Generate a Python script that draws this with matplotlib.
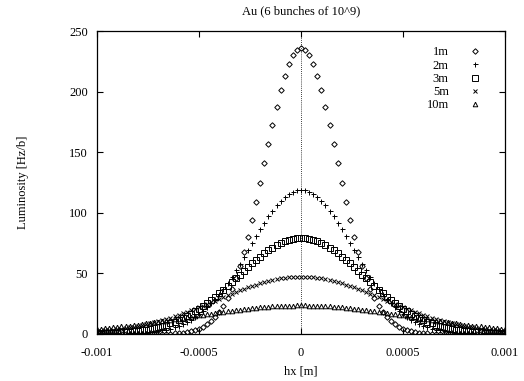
import numpy as np
import matplotlib
matplotlib.use("Agg")
import matplotlib.pyplot as plt
import matplotlib.transforms as mtransforms

plt.rcParams['font.family'] = ['Liberation Serif', 'DejaVu Serif']

# hx positions in mm (converted to m below)
hx_mm = [-1.00, -0.98, -0.96, -0.94, -0.92, -0.90, -0.88, -0.86, -0.84, -0.82,
         -0.80, -0.78, -0.76, -0.74, -0.72, -0.70, -0.68, -0.66, -0.64, -0.62,
         -0.60, -0.58, -0.56, -0.54, -0.52, -0.50, -0.48, -0.46, -0.44, -0.42,
         -0.40, -0.38, -0.36, -0.34, -0.32, -0.30, -0.28, -0.26, -0.24, -0.22,
         -0.20, -0.18, -0.16, -0.14, -0.12, -0.10, -0.08, -0.06, -0.04, -0.02,
         0.00,
         0.02, 0.04, 0.06, 0.08, 0.10, 0.12, 0.14, 0.16, 0.18, 0.20,
         0.22, 0.24, 0.26, 0.28, 0.30, 0.32, 0.34, 0.36, 0.38, 0.40,
         0.42, 0.44, 0.46, 0.48, 0.50, 0.52, 0.54, 0.56, 0.58, 0.60,
         0.62, 0.64, 0.66, 0.68, 0.70, 0.72, 0.74, 0.76, 0.78, 0.80,
         0.82, 0.84, 0.86, 0.88, 0.90, 0.92, 0.94, 0.96, 0.98, 1.00]

lum_1m = [0, 0, 0, 0, 0, 0, 0, 0, 0, 0,
          0.01, 0.01, 0.02, 0.04, 0.06, 0.09, 0.15, 0.23, 0.34, 0.51,
          0.75, 1.10, 1.58, 2.24, 3.15, 4.36, 5.96, 8.05, 10.7, 14.1,
          18.3, 23.5, 29.8, 37.3, 46.0, 56.1, 67.5, 80.2, 94.1, 109.0,
          124.6, 140.7, 156.8, 172.6, 187.5, 201.2, 213.1, 222.8, 230.0, 234.5,
          236.0,
          234.5, 230.0, 222.8, 213.1, 201.2, 187.5, 172.6, 156.8, 140.7, 124.6,
          109.0, 94.1, 80.2, 67.5, 56.1, 46.0, 37.3, 29.8, 23.5, 18.3,
          14.1, 10.7, 8.05, 5.96, 4.36, 3.15, 2.24, 1.58, 1.10, 0.75,
          0.51, 0.34, 0.23, 0.15, 0.09, 0.06, 0.04, 0.02, 0.01, 0.01,
          0, 0, 0, 0, 0, 0, 0, 0, 0, 0]

lum_2m = [0.04, 0.05, 0.07, 0.10, 0.14, 0.18, 0.24, 0.32, 0.42, 0.55,
          0.71, 0.92, 1.17, 1.49, 1.88, 2.36, 2.95, 3.65, 4.49, 5.50,
          6.68, 8.07, 9.68, 11.5, 13.7, 16.1, 18.8, 21.9, 25.3, 29.0,
          33.1, 37.5, 42.2, 47.2, 52.5, 57.9, 63.6, 69.3, 75.1, 80.8,
          86.4, 91.8, 97.0, 101.7, 106.1, 109.9, 113.1, 115.6, 117.5, 118.6,
          119.0,
          118.6, 117.5, 115.6, 113.1, 109.9, 106.1, 101.7, 97.0, 91.8, 86.4,
          80.8, 75.1, 69.3, 63.6, 57.9, 52.5, 47.2, 42.2, 37.5, 33.1,
          29.0, 25.3, 21.9, 18.8, 16.1, 13.7, 11.5, 9.68, 8.07, 6.68,
          5.50, 4.49, 3.65, 2.95, 2.36, 1.88, 1.49, 1.17, 0.92, 0.71,
          0.55, 0.42, 0.32, 0.24, 0.18, 0.14, 0.10, 0.07, 0.05, 0.04]

lum_3m = [0.39, 0.48, 0.59, 0.72, 0.88, 1.06, 1.28, 1.55, 1.85, 2.21,
          2.62, 3.11, 3.66, 4.29, 5.01, 5.83, 6.75, 7.79, 8.94, 10.2,
          11.6, 13.2, 14.9, 16.7, 18.7, 20.9, 23.2, 25.6, 28.2, 30.9,
          33.7, 36.6, 39.7, 42.7, 45.8, 48.9, 52.1, 55.1, 58.2, 61.1,
          63.9, 66.5, 68.9, 71.2, 73.2, 74.9, 76.4, 77.5, 78.3, 78.8,
          79.0,
          78.8, 78.3, 77.5, 76.4, 74.9, 73.2, 71.2, 68.9, 66.5, 63.9,
          61.1, 58.2, 55.1, 52.1, 48.9, 45.8, 42.7, 39.7, 36.6, 33.7,
          30.9, 28.2, 25.6, 23.2, 20.9, 18.7, 16.7, 14.9, 13.2, 11.6,
          10.2, 8.94, 7.79, 6.75, 5.83, 5.01, 4.29, 3.66, 3.11, 2.62,
          2.21, 1.85, 1.55, 1.28, 1.06, 0.88, 0.72, 0.59, 0.48, 0.39]

lum_5m = [2.2, 2.5, 2.9, 3.2, 3.6, 4.0, 4.5, 5.0, 5.5, 6.1,
          6.7, 7.4, 8.1, 8.9, 9.7, 10.6, 11.5, 12.5, 13.6, 14.7,
          15.8, 17.0, 18.2, 19.4, 20.7, 22.1, 23.4, 24.8, 26.2, 27.6,
          29.0, 30.5, 31.9, 33.3, 34.6, 36.0, 37.2, 38.5, 39.7, 40.8,
          41.9, 42.9, 43.8, 44.6, 45.3, 45.9, 46.4, 46.8, 47.1, 47.2,
          47.3,
          47.2, 47.1, 46.8, 46.4, 45.9, 45.3, 44.6, 43.8, 42.9, 41.9,
          40.8, 39.7, 38.5, 37.2, 36.0, 34.6, 33.3, 31.9, 30.5, 29.0,
          27.6, 26.2, 24.8, 23.4, 22.1, 20.7, 19.4, 18.2, 17.0, 15.8,
          14.7, 13.6, 12.5, 11.5, 10.6, 9.7, 8.9, 8.1, 7.4, 6.7,
          6.1, 5.5, 5.0, 4.5, 4.0, 3.6, 3.2, 2.9, 2.5, 2.2]

lum_10m = [4.2, 4.5, 4.8, 5.1, 5.5, 5.8, 6.2, 6.6, 7.0, 7.4,
           7.8, 8.3, 8.7, 9.2, 9.7, 10.1, 10.6, 11.1, 11.6, 12.2,
           12.7, 13.2, 13.7, 14.3, 14.8, 15.3, 15.9, 16.4, 16.9, 17.4,
           17.9, 18.4, 18.9, 19.3, 19.8, 20.2, 20.6, 21.0, 21.4, 21.7,
           22.0, 22.3, 22.6, 22.8, 23.0, 23.2, 23.3, 23.5, 23.5, 23.6,
           23.6,
           23.6, 23.5, 23.5, 23.3, 23.2, 23.0, 22.8, 22.6, 22.3, 22.0,
           21.7, 21.4, 21.0, 20.6, 20.2, 19.8, 19.3, 18.9, 18.4, 17.9,
           17.4, 16.9, 16.4, 15.9, 15.3, 14.8, 14.3, 13.7, 13.2, 12.7,
           12.2, 11.6, 11.1, 10.6, 10.1, 9.7, 9.2, 8.7, 8.3, 7.8,
           7.4, 7.0, 6.6, 6.2, 5.8, 5.5, 5.1, 4.8, 4.5, 4.2]

series_labels = ['1m', '2m', '3m', '5m', '10m']
xtick_vals = [-0.001, -0.0005, 0, 0.0005, 0.001]
xtick_labels = ['-0.001', '-0.0005', '0', '0.0005', '0.001']
ytick_vals = [0, 50, 100, 150, 200, 250]

hx = np.array(hx_mm) * 1e-3

fig = plt.figure(figsize=(5.24, 3.81), dpi=100)
ax = fig.add_axes([97/524, 1 - 334/381, 408/524, 303/381])

styles = [
    dict(marker='D', ms=2.8, mfc='none', mec='black', mew=0.7),
    dict(marker='+', ms=3.6, mec='black', mew=0.7),
    dict(marker='s', ms=3.7, mfc='none', mec='black', mew=0.7),
    dict(marker='x', ms=2.9, mec='black', mew=0.7),
    dict(marker='^', ms=3.3, mfc='none', mec='black', mew=0.7),
]
data = [lum_1m, lum_2m, lum_3m, lum_5m, lum_10m]
for y, lab, st in zip(data, series_labels, styles):
    ax.plot(hx, y, ls='none', label=lab, **st)

ax.axvline(0, color='black', lw=0.6, ls=(0, (1, 1.5)))

ax.set_xlim(-0.001, 0.001)
ax.set_ylim(0, 250)
ax.set_xticks(xtick_vals)
ax.set_xticklabels(xtick_labels)
ax.set_yticks(ytick_vals)
ax.tick_params(direction='in', top=True, right=True, length=4, width=0.8,
               labelsize=9)
ax.tick_params(axis='x', pad=9)
ax.tick_params(axis='y', pad=6.5)
for sp in ax.spines.values():
    sp.set_linewidth(0.9)

ax.set_title('Au (6 bunches of 10^9)', fontsize=9, pad=12)
ax.set_xlabel('hx [m]', fontsize=9, labelpad=5)
ax.set_ylabel('Luminosity [Hz/b]', fontsize=9, labelpad=29)

leg = ax.legend(loc='upper right', bbox_to_anchor=(0.963, 0.978), frameon=False,
                markerfirst=False, fontsize=9, handlelength=1.0, handletextpad=1.6,
                labelspacing=0.1, borderpad=0.2)
fig.canvas.draw()
renderer = fig.canvas.get_renderer()
rights = [t.get_window_extent(renderer).x1 for t in leg.get_texts()]
maxr = max(rights)
for t, r in zip(leg.get_texts(), rights):
    t.set_transform(t.get_transform() + mtransforms.Affine2D().translate(maxr - r, 0))

fig.savefig('out.png', dpi=100)
